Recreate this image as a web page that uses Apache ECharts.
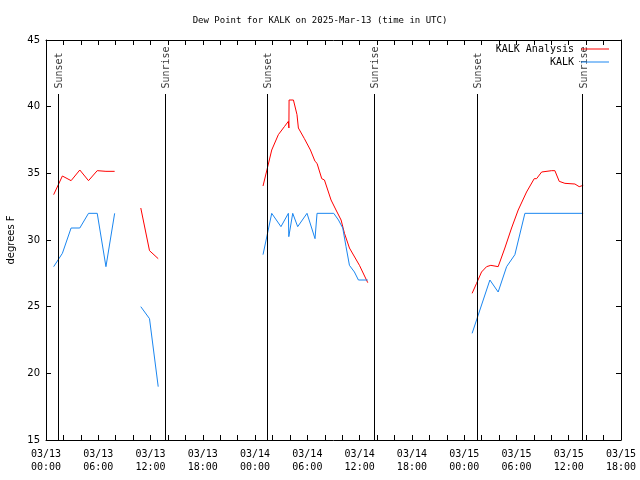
<!DOCTYPE html>
<html>
<head>
<meta charset="utf-8">
<script src="https://cdn.jsdelivr.net/npm/echarts/dist/echarts.min.js"></script>
<style>html,body{margin:0;padding:0;background:#fff}#c{width:640px;height:480px}</style>
</head>
<body>
<div id="c"></div>
<script>
// Time is in hours since 2025-03-13 00:00 UTC
const titleText = 'Dew Point for KALK on 2025-Mar-13 (time in UTC)';
const xTickLabels = ['03/13\n00:00','03/13\n06:00','03/13\n12:00','03/13\n18:00',
                     '03/14\n00:00','03/14\n06:00','03/14\n12:00','03/14\n18:00',
                     '03/15\n00:00','03/15\n06:00','03/15\n12:00','03/15\n18:00'];
const seriesNames = ['KALK Analysis', 'KALK'];

// KALK Analysis (null = gap in data)
const analysisTime = [0.88,1.88,2.88,3.88,4.88,5.88,6.88,7.88, 9.4,
  10.88,11.88,12.88, 18,
  24.91,25.45,25.91,26.67,27.36,27.82,27.88,27.90,28.40,28.81,28.97,29.66,30.35,30.88,31.11,31.65,31.96,32.72,33.29,33.87,34.26,34.83,35.98,36.93, 42,
  48.91,49.42,49.99,50.57,51.06,51.90,52.67,53.44,54.20,55.16,56.04,56.31,56.89,58.04,58.41,58.91,59.56,60.71,61.20,61.66];
const analysisDew = [33.4,34.8,34.45,35.25,34.45,35.2,35.15,35.15, null,
  32.4,29.2,28.6, null,
  34.05,35.5,36.75,37.9,38.5,38.9,38.4,40.5,40.5,39.4,38.4,37.6,36.75,35.9,35.75,34.6,34.5,33.0,32.25,31.5,30.5,29.4,28.1,26.8, null,
  26.0,26.75,27.6,28.0,28.1,28.0,29.4,30.9,32.25,33.6,34.6,34.6,35.1,35.2,35.2,34.4,34.25,34.2,34.0,34.1];

// KALK observations
const obsTime = [0.88,1.88,2.88,3.88,4.88,5.88,6.88,7.88, 9.4,
  10.88,11.88,12.88, 18,
  24.91,25.91,26.97,27.82,27.87,28.32,28.89,29.96,30.88,31.11,33.03,33.57,34.06,34.44,34.83,35.40,35.86,36.93, 42,
  48.91,50.95,51.90,52.87,53.82,54.97,61.66];
const obsDew = [28.0,29.0,30.9,30.9,32.0,32.0,28.0,32.0, null,
  25.0,24.1,19.0, null,
  28.9,32.0,31.0,32.0,30.25,32.0,31.0,32.0,30.1,32.0,32.0,31.5,30.9,29.5,28.1,27.6,27.0,27.0, null,
  23.0,27.0,26.1,28.0,28.9,32.0,32.0];

// Sunset / sunrise markers
const sunTimes = [1.36, 13.69, 25.37, 37.66, 49.49, 61.60];
const sunNames = ['Sunset','Sunrise','Sunset','Sunrise','Sunset','Sunrise'];
const sunLineTop = 40.95;
const sunLabelBase = 41.32;

const MONO = 'DejaVu Sans Mono';
const pairs = (t, v) => t.map((x, i) => [x, v[i] == null ? '-' : v[i]]);

const tickCommon = {
  axisLine: {show: true, onZero: false, lineStyle: {color: '#000', width: 1}},
  axisTick: {show: true, inside: true, length: 5, lineStyle: {color: '#000', width: 1}},
  splitLine: {show: false}
};

const legendCommon = {
  right: 31, orient: 'vertical', align: 'right', padding: 0,
  icon: 'rect', itemWidth: 28, itemHeight: 1,
  textStyle: {fontFamily: MONO, fontSize: 10, color: '#000', lineHeight: 12, padding: [0, 2, 0, 0]}
};

const option = {
  animation: false,
  backgroundColor: '#fff',
  title: {text: titleText, left: 'center', top: 10,
    textStyle: {fontFamily: MONO, fontSize: 9, fontWeight: 'normal', color: '#000', lineHeight: 12}},
  legend: [
    Object.assign({data: [seriesNames[0]], top: 43}, legendCommon),
    Object.assign({data: [seriesNames[1]], top: 56}, legendCommon)
  ],
  grid: {left: 46, right: 19, top: 40, bottom: 40, outerBoundsMode: 'none', containLabel: false},
  xAxis: [
    Object.assign({}, tickCommon, {type: 'value', position: 'bottom', min: 0, max: 66, interval: 6,
      minorTick: {show: true, splitNumber: 3, length: 5, lineStyle: {color: '#000'}},
      axisLabel: {show: true, margin: 8, fontFamily: MONO, fontSize: 10, lineHeight: 13, color: '#000',
        formatter: v => xTickLabels[Math.round(v / 6)]}}),
    Object.assign({}, tickCommon, {type: 'value', position: 'top', min: 0, max: 66, interval: 6,
      minorTick: {show: true, splitNumber: 3, length: 5, lineStyle: {color: '#000'}},
      axisLabel: {show: false}})
  ],
  yAxis: [
    Object.assign({}, tickCommon, {type: 'value', position: 'left', min: 15, max: 45, interval: 5,
      name: 'degrees F', nameLocation: 'middle', nameRotate: 90, nameGap: 30,
      nameTextStyle: {fontFamily: 'DejaVu Sans', fontSize: 10, color: '#000'},
      axisLabel: {show: true, margin: 6, fontFamily: 'DejaVu Sans', fontSize: 10, color: '#000'}}),
    Object.assign({}, tickCommon, {type: 'value', position: 'right', min: 15, max: 45, interval: 5,
      axisLabel: {show: false}})
  ],
  series: [
    {name: seriesNames[0], type: 'line', data: pairs(analysisTime, analysisDew),
      showSymbol: false, symbol: 'none', connectNulls: false,
      lineStyle: {color: '#ff0000', width: 1}, itemStyle: {color: '#ff0000'}, z: 3},
    {name: seriesNames[1], type: 'line', data: pairs(obsTime, obsDew),
      showSymbol: false, symbol: 'none', connectNulls: false,
      lineStyle: {color: '#1a86f0', width: 1}, itemStyle: {color: '#1a86f0'}, z: 3},
    {name: 'sun', type: 'scatter', symbolSize: 1, z: 2,
      itemStyle: {color: 'rgba(0,0,0,0)'},
      data: sunTimes.map((t, i) => ({name: sunNames[i], value: [t, sunLabelBase]})),
      label: {show: true, formatter: '{b}', position: [2, 0], rotate: 90, align: 'left', verticalAlign: 'middle',
        fontFamily: MONO, fontSize: 10, color: '#000'},
      markLine: {silent: true, symbol: ['none', 'none'], label: {show: false},
        lineStyle: {color: '#000', width: 1, type: 'solid'},
        data: sunTimes.map(t => [{coord: [t, 15]}, {coord: [t, sunLineTop]}])}
    }
  ]
};

const chart = echarts.init(document.getElementById('c'), null, {renderer: 'canvas'});
chart.setOption(option);
</script>
</body>
</html>
